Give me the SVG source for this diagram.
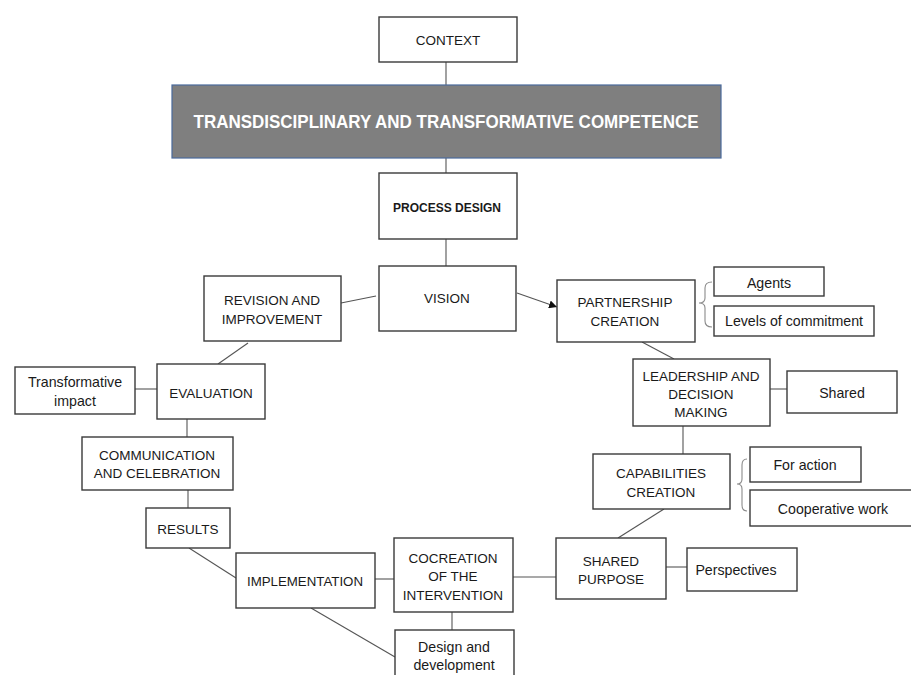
<svg xmlns="http://www.w3.org/2000/svg" width="911" height="675" viewBox="0 0 911 675">
  <style>
    .box { fill: #ffffff; stroke: #3a3a3a; stroke-width: 1.4; }
    .lbl { font-family: "Liberation Sans", Arial, sans-serif; font-size: 13.5px; fill: #1a1a1a; text-anchor: middle; }
    .low { font-size: 14.2px; }
    .bold { font-weight: bold; }
    .edge { stroke: #555555; stroke-width: 1.1; fill: none; }
    .brace { stroke: #8a8a8a; stroke-width: 1.1; fill: none; }
  </style>
  <defs>
    <marker id="arrow" viewBox="0 0 10 10" refX="10" refY="5" markerWidth="8" markerHeight="8" markerUnits="userSpaceOnUse" orient="auto">
      <path d="M0,0 L10,5 L0,10 Z" fill="#111111"/>
    </marker>
  </defs>
  <rect width="911" height="675" fill="#ffffff"/>

  <!-- connectors -->
  <g id="connectors">
    <line class="edge" x1="446" y1="62" x2="446" y2="85"/>
    <line class="edge" x1="446" y1="158" x2="446" y2="173"/>
    <line class="edge" x1="446" y1="239" x2="446" y2="266"/>
    <line class="edge" x1="517" y1="293" x2="557" y2="307" marker-end="url(#arrow)"/>
    <line class="edge" x1="341" y1="303" x2="376" y2="296"/>
    <line class="edge" x1="248" y1="343" x2="218" y2="364"/>
    <line class="edge" x1="135" y1="389" x2="157" y2="389"/>
    <line class="edge" x1="187" y1="419" x2="187" y2="437"/>
    <line class="edge" x1="188" y1="490" x2="188" y2="508"/>
    <line class="edge" x1="189" y1="548" x2="236" y2="578"/>
    <line class="edge" x1="375" y1="579" x2="394" y2="579"/>
    <line class="edge" x1="311" y1="608" x2="395" y2="657"/>
    <line class="edge" x1="452" y1="612" x2="452" y2="630"/>
    <line class="edge" x1="513" y1="577" x2="556" y2="577"/>
    <line class="edge" x1="666" y1="567" x2="687" y2="567"/>
    <line class="edge" x1="664" y1="509" x2="618" y2="538"/>
    <line class="edge" x1="683" y1="426" x2="683" y2="454"/>
    <line class="edge" x1="770" y1="389" x2="787" y2="389"/>
    <line class="edge" x1="642" y1="342" x2="674" y2="359"/>
    <path class="brace" d="M712,282 Q705,282 705,288 L705,298 Q705,303 699,303 Q705,303 705,308 L705,321 Q705,327 712,327"/>
    <path class="brace" d="M747,459 Q742,459 742,465 L742,479 Q742,484 737,484 Q742,484 742,489 L742,505 Q742,511 747,511"/>
  </g>

  <g id="context">
    <rect class="box" x="379" y="17" width="138" height="45"/>
    <text class="lbl" x="448" y="44.5">CONTEXT</text>
  </g>

  <g id="competence">
    <rect x="172" y="85" width="549" height="73" fill="#7f7f7f" stroke="#4a6a9c" stroke-width="1.2"/>
    <text class="lbl bold" x="446" y="128" style="font-size:17.5px;fill:#ffffff" textLength="505" lengthAdjust="spacingAndGlyphs">TRANSDISCIPLINARY AND TRANSFORMATIVE COMPETENCE</text>
  </g>

  <g id="process-design">
    <rect class="box" x="379" y="173" width="138" height="66"/>
    <text class="lbl bold" x="447" y="211.5" textLength="108" lengthAdjust="spacingAndGlyphs">PROCESS DESIGN</text>
  </g>

  <g id="vision">
    <rect class="box" x="379" y="266" width="137" height="65"/>
    <text class="lbl" x="447" y="303">VISION</text>
  </g>

  <g id="revision">
    <rect class="box" x="204" y="276" width="137" height="65"/>
    <text class="lbl" x="272" y="305">REVISION AND</text>
    <text class="lbl" x="272" y="324">IMPROVEMENT</text>
  </g>

  <g id="evaluation">
    <rect class="box" x="157" y="364" width="108" height="55"/>
    <text class="lbl" x="211" y="398">EVALUATION</text>
  </g>

  <g id="transformative-impact">
    <rect class="box" x="15" y="367" width="120" height="47"/>
    <text class="lbl low" x="75" y="387">Transformative</text>
    <text class="lbl low" x="75" y="406">impact</text>
  </g>

  <g id="communication">
    <rect class="box" x="82" y="437" width="151" height="53"/>
    <text class="lbl" x="157" y="460">COMMUNICATION</text>
    <text class="lbl" x="157" y="478">AND CELEBRATION</text>
  </g>

  <g id="results">
    <rect class="box" x="146" y="508" width="84" height="40"/>
    <text class="lbl" x="188" y="534">RESULTS</text>
  </g>

  <g id="implementation">
    <rect class="box" x="236" y="553" width="139" height="55"/>
    <text class="lbl" x="305" y="586" textLength="116" lengthAdjust="spacingAndGlyphs">IMPLEMENTATION</text>
  </g>

  <g id="cocreation">
    <rect class="box" x="394" y="538" width="119" height="74"/>
    <text class="lbl" x="453" y="563">COCREATION</text>
    <text class="lbl" x="453" y="581">OF THE</text>
    <text class="lbl" x="453" y="600">INTERVENTION</text>
  </g>

  <g id="design-development">
    <rect class="box" x="395" y="630" width="119" height="60"/>
    <text class="lbl low" x="454" y="652">Design and</text>
    <text class="lbl low" x="454" y="670">development</text>
  </g>

  <g id="shared-purpose">
    <rect class="box" x="556" y="538" width="110" height="61"/>
    <text class="lbl" x="611" y="566">SHARED</text>
    <text class="lbl" x="611" y="584">PURPOSE</text>
  </g>

  <g id="perspectives">
    <rect class="box" x="687" y="548" width="110" height="43"/>
    <text class="lbl low" x="736" y="575">Perspectives</text>
  </g>

  <g id="capabilities">
    <rect class="box" x="593" y="454" width="137" height="55"/>
    <text class="lbl" x="661" y="478">CAPABILITIES</text>
    <text class="lbl" x="661" y="497">CREATION</text>
  </g>

  <g id="for-action">
    <rect class="box" x="750" y="447" width="111" height="35"/>
    <text class="lbl low" x="805" y="470">For action</text>
  </g>

  <g id="cooperative-work">
    <rect class="box" x="750" y="490" width="162" height="36"/>
    <text class="lbl low" x="833" y="514">Cooperative work</text>
  </g>

  <g id="leadership">
    <rect class="box" x="633" y="359" width="137" height="67"/>
    <text class="lbl" x="701" y="381">LEADERSHIP AND</text>
    <text class="lbl" x="701" y="399">DECISION</text>
    <text class="lbl" x="701" y="417">MAKING</text>
  </g>

  <g id="shared">
    <rect class="box" x="787" y="371" width="110" height="42"/>
    <text class="lbl low" x="842" y="398">Shared</text>
  </g>

  <g id="partnership">
    <rect class="box" x="557" y="280" width="138" height="62"/>
    <text class="lbl" x="625" y="307">PARTNERSHIP</text>
    <text class="lbl" x="625" y="326">CREATION</text>
  </g>

  <g id="agents">
    <rect class="box" x="714" y="267" width="110" height="29"/>
    <text class="lbl low" x="769" y="288">Agents</text>
  </g>

  <g id="levels-of-commitment">
    <rect class="box" x="714" y="306" width="160" height="30"/>
    <text class="lbl low" x="794" y="326">Levels of commitment</text>
  </g>
</svg>
